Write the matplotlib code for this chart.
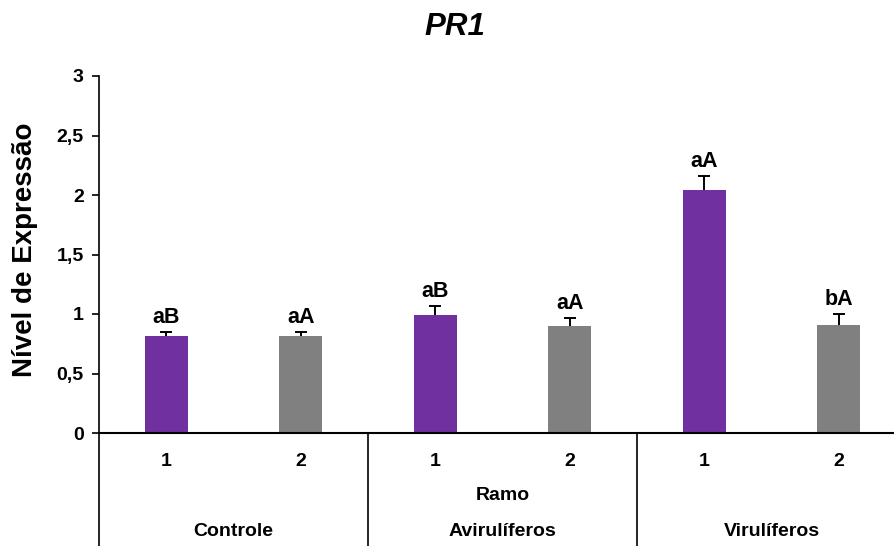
import matplotlib
matplotlib.use("Agg")
import matplotlib.pyplot as plt
import numpy as np
from matplotlib.transforms import blended_transform_factory

plt.rcParams['font.family'] = ['Liberation Sans', 'DejaVu Sans']

groups = ["Controle", "Avirulíferos", "Virulíferos"]
sub_labels = ["1", "2"]
values = [0.815, 0.815, 0.99, 0.90, 2.04, 0.91]
errors = [0.035, 0.035, 0.08, 0.07, 0.12, 0.09]
letters = ["aB", "aA", "aB", "aA", "aA", "bA"]
colors = ["#7030A0", "#808080"]

W, H = 895, 546
fig = plt.figure(figsize=(W / 100, H / 100), dpi=100)
ax_left, ax_right = 99, 906
ax_bottom, ax_top = 433, 76
ax = fig.add_axes([ax_left / W, 1 - ax_bottom / H,
                   (ax_right - ax_left) / W, (ax_bottom - ax_top) / H])

n = len(values)
x = np.arange(n)
vals = np.array(values)
errs = np.array(errors)
bar_colors = [colors[i % 2] for i in range(n)]
ax.bar(x, vals, width=0.32, color=bar_colors, zorder=2)

# upper-only error bars: stem from the bar top plus a single cap
cap = 0.045
ax.vlines(x, vals, vals + errs, color="black", lw=1.4, zorder=3)
ax.hlines(vals + errs, x - cap, x + cap, color="black", lw=1.4, zorder=3)

for xi, v, e, t in zip(x, vals, errs, letters):
    ax.text(xi, v + e + 0.03, t, ha="center", va="bottom",
            fontsize=15.5, fontweight="bold")

ax.set_xlim(-0.5, n - 0.5)
ax.set_ylim(0, 3)
ax.set_yticks([0, 0.5, 1, 1.5, 2, 2.5, 3])
ax.set_yticklabels(["0", "0,5", "1", "1,5", "2", "2,5", "3"],
                   fontsize=14, fontweight="bold")
ax.tick_params(axis="y", direction="out", length=5, width=1.2, pad=6)
ax.set_xticks([])
for s in ["top", "right"]:
    ax.spines[s].set_visible(False)
ax.spines["left"].set_linewidth(1.2)
ax.spines["bottom"].set_linewidth(1.5)

axw = ax_right - ax_left
axh = ax_bottom - ax_top
ax.set_ylabel("Nível de Expressão", fontsize=20, fontweight="bold",
              va="center")
ax.yaxis.set_label_coords((25 - ax_left) / axw, 0.5 + 5 / axh)
fig.text(455 / W, 1 - 27 / H, "PR1", ha="center", va="center",
         fontsize=22.5, fontweight="bold", fontstyle="italic")

# Multi-level category axis below the plot
trans = blended_transform_factory(ax.transData, ax.transAxes)
ybot = -(H - ax_bottom) / axh - 0.01
for xs in [-0.5, 1.5, 3.5]:
    ax.plot([xs, xs], [0, ybot], color="black", lw=1.2, transform=trans,
            clip_on=False)
for xi in x:
    ax.text(xi, -29 / axh, sub_labels[xi % 2], transform=trans, ha="center",
            va="center", fontsize=14, fontweight="bold")
ax.text((n - 1) / 2, -62 / axh, "Ramo", transform=trans, ha="center",
        va="center", fontsize=14, fontweight="bold")
for gi, g in enumerate(groups):
    ax.text(2 * gi + 0.5, -99 / axh, g, transform=trans, ha="center",
            va="center", fontsize=14, fontweight="bold")

fig.savefig("out.png", dpi=100)
